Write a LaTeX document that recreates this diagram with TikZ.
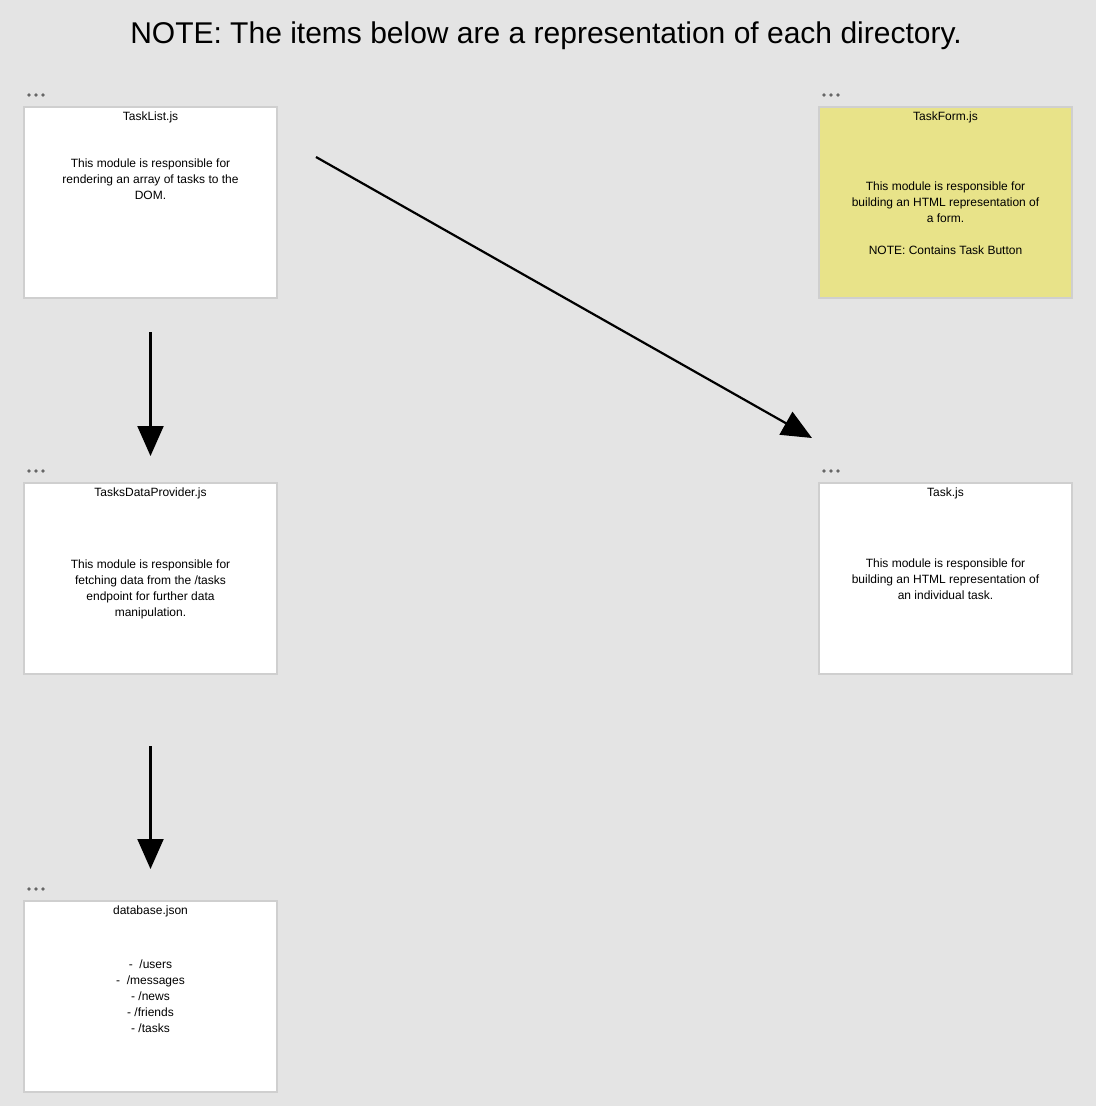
\documentclass[tikz,border=0pt]{standalone}
\usepackage{fontspec}
\setmainfont{Liberation Sans}
\usetikzlibrary{positioning, arrows.meta, calc}
\definecolor{canvas}{HTML}{E4E4E4}
\definecolor{edge}{HTML}{CFCFCF}
\definecolor{note}{HTML}{E8E389}
\definecolor{dots}{HTML}{666666}
\begin{document}
\begin{tikzpicture}[x=1pt, y=-1pt,
    card/.style={rectangle, draw=edge, line width=2pt, fill=white,
                 minimum width=253pt, minimum height=191pt, inner sep=0pt},
    yellowcard/.style={card, fill=note},
    fname/.style={font=\fontsize{12}{16}\selectfont, inner sep=0pt, anchor=center},
    desc/.style={font=\fontsize{12}{16}\selectfont, align=center, inner sep=0pt},
    arr/.style={-{Triangle[length=30pt, width=26pt]}, line width=2.2pt, black}
]
\fill[canvas] (0,0) rectangle (1096,1106);
\useasboundingbox (0,0) rectangle (1096,1106);

\node[font=\fontsize{30}{36}\selectfont] (heading) at (546,36)
    {NOTE: The items below are a representation of each directory.};

\node[card] (tasklist) at (150.5,202.5) {};
\node[yellowcard, right=540pt of tasklist] (taskform) {};
\node[card, below=183pt of tasklist] (provider) {};
\node[card, below=183pt of taskform] (task) {};
\node[card, below=225pt of provider] (database) {};

\foreach \b in {tasklist, taskform, provider, task, database}
  \foreach \i in {0,1,2}
    \fill[dots] ([xshift={(6+7*\i)*1pt}, yshift=11pt]\b.north west) circle (1.8pt);

\node[fname] (tasklistname) at ([yshift=-11pt]tasklist.north) {TaskList.js};
\node[fname] (taskformname) at ([yshift=-11pt]taskform.north) {TaskForm.js};
\node[fname] (providername) at ([yshift=-11pt]provider.north) {TasksDataProvider.js};
\node[fname] (taskname)     at ([yshift=-11pt]task.north)     {Task.js};
\node[fname] (databasename) at ([yshift=-11pt]database.north) {database.json};

\node[desc] (tasklistdesc) at ([yshift=-73pt]tasklist.north)
    {This module is responsible for\\
     rendering an array of tasks to the\\
     DOM.};
\node[desc] (taskformdesc) at ([yshift=-112pt]taskform.north)
    {This module is responsible for\\
     building an HTML representation of\\
     a form.\\[16pt]
     NOTE: Contains Task Button};
\node[desc] (providerdesc) at ([yshift=-107pt]provider.north)
    {This module is responsible for\\
     fetching data from the /tasks\\
     endpoint for further data\\
     manipulation.};
\node[desc] (taskdesc) at ([yshift=-97pt]task.north)
    {This module is responsible for\\
     building an HTML representation of\\
     an individual task.};
\node[desc] (databasedesc) at ([yshift=-96pt]database.north)
    {-~ /users\\
     -~ /messages\\
     - /news\\
     - /friends\\
     - /tasks};

\coordinate (listout) at (316,157);
\coordinate (taskin)  at (812,438);

\draw[arr, shorten <=33pt, shorten >=26pt] (tasklist.south) -- (provider.north);
\draw[arr, shorten <=71pt, shorten >=31pt] (provider.south) -- (database.north);
\draw[arr] (listout) -- (taskin);

\end{tikzpicture}
\end{document}
